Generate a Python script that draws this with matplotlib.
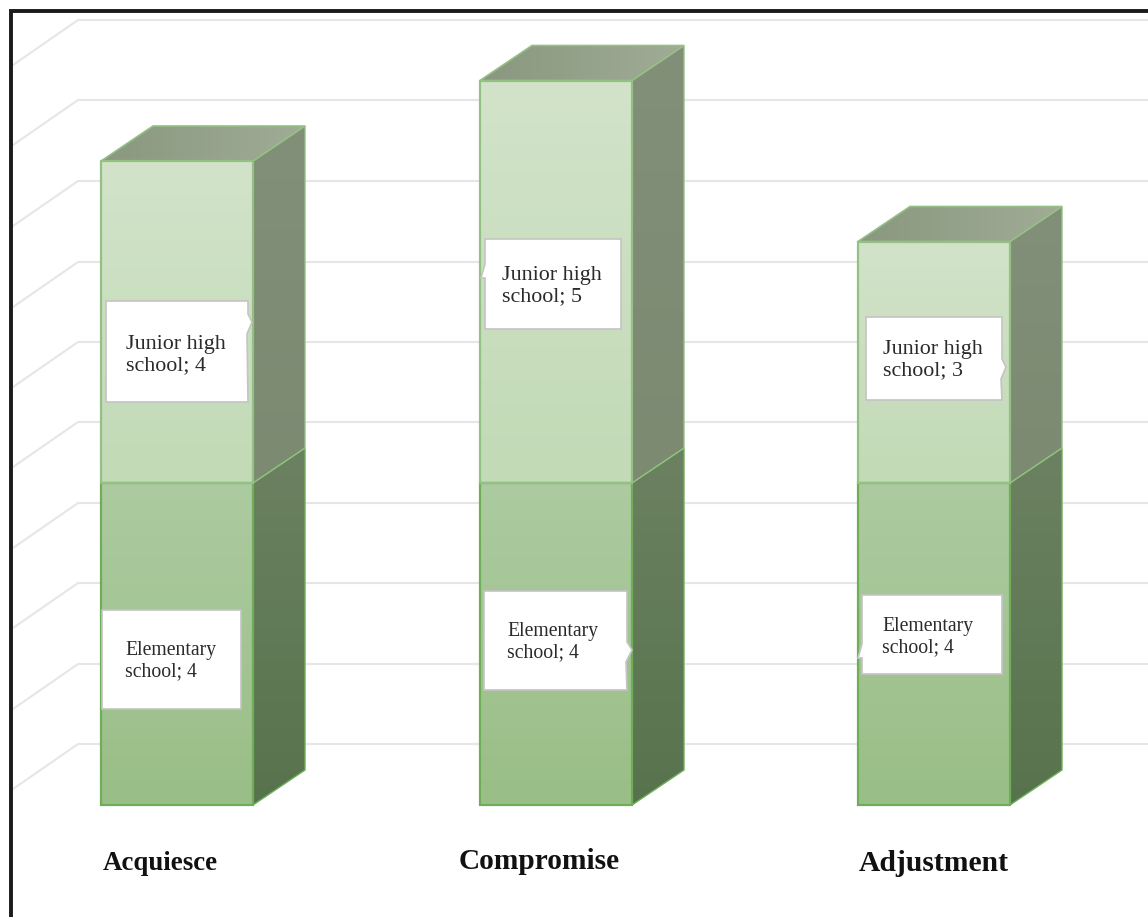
#!/usr/bin/env python3

# Stacked pseudo-3D columns, elementary vs junior high school

import numpy as np
import matplotlib
matplotlib.use('Agg')
import matplotlib.pyplot as plt
from matplotlib.patches import Polygon

plt.rcParams['font.family'] = ['Liberation Serif', 'DejaVu Serif']

# Data
categories = ['Acquiesce', 'Compromise', 'Adjustment']
elementary = [4, 4, 4]
junior     = [4, 5, 3]
series_names = ['Elementary\nschool', 'Junior high\nschool']

# Layout, all in reference pixels
W, H = 1148, 917
BASE_PX = 805.
UNIT_PX = 80.5
BAR_LEFT = [101, 480, 858]
BAR_W = 152
DEPTH_X = 52
DEPTH_PX = 35.
GRID_PX = [744, 664, 583, 503, 422, 342, 262, 181, 100, 20]

def val(py):
    # pixel row to value on the y scale
    return (BASE_PX - py) / UNIT_PX

DEPTH_Y = DEPTH_PX / UNIT_PX

# (x0, y0, x1, y1), notch (side, y, tip x), text x, text centre y
label_boxes = {
    (0, 1): ((106, 301, 248, 402), ('r', 322, 252), 126, 355),
    (0, 0): ((102, 610, 241, 709), None,            125, 661),
    (1, 1): ((485, 239, 621, 329), ('l', 270, 481), 502, 286),
    (1, 0): ((484, 591, 627, 690), ('r', 650, 632), 507, 642),
    (2, 1): ((866, 317, 1002, 400), ('r', 367, 1006), 883, 360),
    (2, 0): ((862, 595, 1002, 674), ('l', 650, 858), 882, 637),
}
label_sizes = [14.2, 15.8]
cat_sizes = [19.4, 21.2, 21.3]
cat_x = [103, 459, 859]
cat_base = [870, 869, 871]

# colours as (start, end)
FRONT = [((172, 203, 160), (154, 190, 135)), ((210, 227, 201), (194, 218, 182))]
SIDE  = [((108, 129, 97), (87, 115, 77)), ((130, 143, 121), (124, 138, 114))]
TOP   = ((138, 152, 128), (160, 172, 150))
EDGE  = ['#6fae58', '#93c083']


def gradient(ax, verts, c0, c1, vertical=True):
    # fill a polygon with a linear gradient, clipped to its outline
    verts = np.array(verts)
    t = np.linspace(0, 1, 128)
    c = np.outer(1 - t, c0) + np.outer(t, c1)
    img = (c / 255.)[:, None, :] if vertical else (c / 255.)[None, :, :]
    x0, x1 = verts[:, 0].min(), verts[:, 0].max()
    y0, y1 = verts[:, 1].min(), verts[:, 1].max()
    im = ax.imshow(img, extent=(x0, x1, y0, y1), origin='upper',
                   aspect='auto', zorder=2, interpolation='bilinear')
    im.set_clip_path(Polygon(verts, transform=ax.transData))


fig = plt.figure(figsize=(W / 100, H / 100), dpi=100)
ax = fig.add_axes([0, 0, 1, 1])
ax.axis('off')

# Wall and floor gridlines
for py in GRID_PX:
    ax.plot([13, 78, W], [val(py + 45), val(py), val(py)], color='#e6e6e6', lw=1.5,
            zorder=1, solid_joinstyle='round')

# Columns
for i, name in enumerate(categories):
    x0 = BAR_LEFT[i]
    x1 = x0 + BAR_W
    bottom = 0
    for s, values in enumerate([elementary, junior]):
        top = bottom + values[i]
        front = [(x0, bottom), (x1, bottom), (x1, top), (x0, top)]
        side = [(x1, bottom), (x1 + DEPTH_X, bottom + DEPTH_Y),
                (x1 + DEPTH_X, top + DEPTH_Y), (x1, top)]
        gradient(ax, side, SIDE[s][0], SIDE[s][1])
        gradient(ax, front, FRONT[s][0], FRONT[s][1])
        ax.add_patch(Polygon(side, closed=True, fill=False, ec=EDGE[s], lw=1.0, zorder=3))
        ax.add_patch(Polygon(front, closed=True, fill=False, ec=EDGE[s], lw=1.6, zorder=3))
        bottom = top
    cap = [(x0, bottom), (x1, bottom), (x1 + DEPTH_X, bottom + DEPTH_Y),
           (x0 + DEPTH_X, bottom + DEPTH_Y)]
    gradient(ax, cap, TOP[0], TOP[1], vertical=False)
    ax.add_patch(Polygon(cap, closed=True, fill=False, ec=EDGE[1], lw=1.2, zorder=3))

    ax.text(cat_x[i], val(cat_base[i]), name, fontsize=cat_sizes[i], fontweight='bold',
            color='#111111', ha='left', va='baseline', zorder=6)

# Data labels
for (i, s), (box, notch, tx, ty) in label_boxes.items():
    bx0, by0, bx1, by1 = box
    pts = [(bx0, by0), (bx1, by0)]
    if notch and notch[0] == 'r':
        pts += [(bx1, notch[1] - 8), (notch[2], notch[1]), (bx1 - 1, notch[1] + 12)]
    pts += [(bx1, by1), (bx0, by1)]
    if notch and notch[0] == 'l':
        pts += [(bx0, notch[1] + 8), (notch[2], notch[1] + 8), (bx0, notch[1] - 6)]
    pts = [(px, val(py)) for px, py in pts]
    ax.add_patch(Polygon(pts, closed=True, fc='white', ec='#c4c4c4', lw=1.2, zorder=4))
    value = (elementary, junior)[s][i]
    ax.text(tx, val(ty), f'{series_names[s]}; {value}', fontsize=label_sizes[s],
            color='#2b2b2b', ha='left', va='center', linespacing=1.2, zorder=5)

# Picture frame, only top and left survive the crop
ax.plot([10.5, 10.5, W], [val(H), val(11), val(11)], color='#1a1a1a', lw=2.8,
        zorder=7, solid_joinstyle='miter', clip_on=False)

ax.set_xlim(0, W)
ax.set_ylim(val(H), val(0))

fig.savefig('out.png', dpi=100, facecolor='w')
plt.close()
